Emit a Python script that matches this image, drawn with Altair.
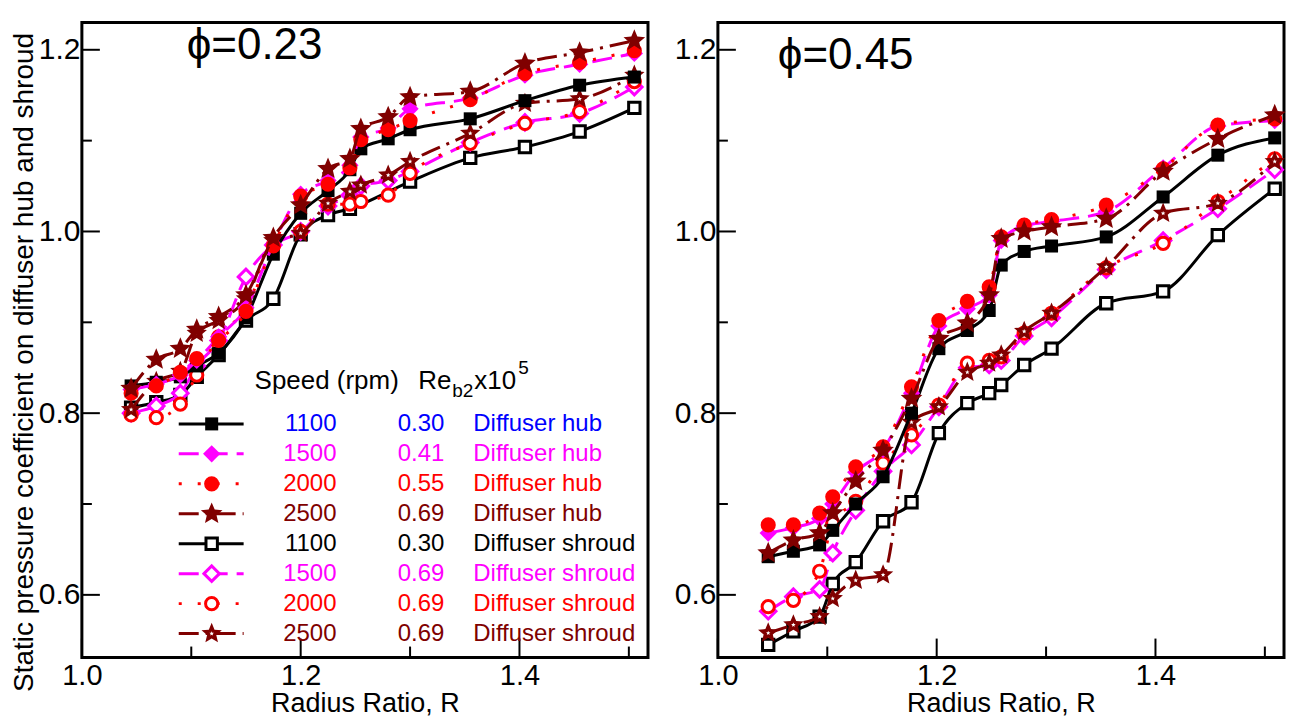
import math
import altair as alt
import pandas as pd

# ---------------- data ----------------
R_LEFT = [1.045, 1.068, 1.09, 1.105, 1.125, 1.15, 1.175, 1.2, 1.225, 1.245, 1.255, 1.28, 1.30, 1.355, 1.405, 1.455, 1.505]
R_RIGHT = [1.046, 1.069, 1.093, 1.105, 1.126, 1.151, 1.177, 1.202, 1.228, 1.248, 1.259, 1.28, 1.305, 1.355, 1.407, 1.457, 1.509]

# phi = 0.23 (left panel)
L_HUB_1100 = [0.830, 0.834, 0.840, 0.852, 0.866, 0.905, 0.975, 1.020, 1.045, 1.068, 1.091, 1.102, 1.112, 1.124, 1.144, 1.161, 1.170]
L_HUB_1500 = [0.826, 0.832, 0.842, 0.858, 0.884, 0.916, 0.986, 1.041, 1.056, 1.073, 1.104, 1.114, 1.135, 1.147, 1.172, 1.184, 1.196]
L_HUB_2000 = [0.822, 0.830, 0.845, 0.860, 0.880, 0.912, 0.984, 1.039, 1.052, 1.070, 1.101, 1.112, 1.122, 1.145, 1.174, 1.186, 1.199]
L_HUB_2500 = [0.827, 0.859, 0.871, 0.892, 0.906, 0.930, 0.993, 1.029, 1.069, 1.080, 1.113, 1.126, 1.148, 1.154, 1.185, 1.197, 1.210]
L_SHR_1100 = [0.806, 0.812, 0.820, 0.840, 0.864, 0.902, 0.926, 0.997, 1.018, 1.025, None, None, 1.055, 1.081, 1.093, 1.110, 1.136]
L_SHR_1500 = [0.800, 0.808, 0.822, 0.852, 0.880, 0.950, 0.985, 1.000, 1.028, 1.040, 1.050, 1.056, 1.066, 1.098, 1.120, 1.130, 1.159]
L_SHR_2000 = [0.798, 0.795, 0.810, 0.842, 0.884, 0.915, 0.985, 1.000, 1.030, 1.030, 1.033, 1.040, 1.064, 1.097, 1.119, 1.132, 1.165]
L_SHR_2500 = [0.804, 0.835, 0.846, 0.888, 0.902, 0.926, 0.990, 0.998, 1.031, 1.044, 1.051, 1.062, 1.077, 1.108, 1.141, 1.146, 1.172]

# phi = 0.45 (right panel)
R_HUB_1100 = [0.642, 0.648, 0.655, 0.671, 0.700, 0.730, 0.800, 0.871, 0.891, 0.913, 0.963, 0.978, 0.984, 0.994, 1.038, 1.084, 1.103]
R_HUB_1500 = [0.668, 0.674, 0.684, 0.700, 0.735, 0.760, 0.822, 0.896, 0.915, 0.930, 0.990, 1.006, 1.011, 1.022, 1.070, 1.116, 1.122]
R_HUB_2000 = [0.677, 0.677, 0.690, 0.708, 0.741, 0.763, 0.829, 0.902, 0.923, 0.939, 0.994, 1.007, 1.013, 1.029, 1.069, 1.117, 1.124]
R_HUB_2500 = [0.646, 0.660, 0.668, 0.690, 0.725, 0.759, 0.816, 0.882, 0.899, 0.930, 0.992, 1.000, 1.005, 1.014, 1.066, 1.102, 1.128]
R_SHR_1100 = [0.545, 0.560, 0.576, 0.612, 0.636, 0.681, 0.702, 0.778, 0.811, 0.822, 0.831, 0.853, 0.871, 0.921, 0.934, 0.996, 1.047]
R_SHR_1500 = [0.582, 0.598, 0.606, 0.646, 0.693, 0.736, 0.765, 0.807, 0.850, 0.853, 0.858, 0.885, 0.905, 0.958, 0.990, 1.025, 1.068]
R_SHR_2000 = [0.587, 0.594, 0.626, 0.679, 0.703, 0.745, 0.776, 0.809, 0.855, 0.858, 0.862, 0.888, 0.910, 0.960, 0.987, 1.033, 1.080]
R_SHR_2500 = [0.558, 0.567, 0.576, 0.596, 0.616, 0.622, 0.790, 0.807, 0.845, 0.855, 0.864, 0.890, 0.910, 0.961, 1.020, 1.031, 1.077]

SPEEDS = ["1100", "1500", "2000", "2500", "1100", "1500", "2000", "2500"]
RE_VALUES = ["0.30", "0.41", "0.55", "0.69", "0.30", "0.69", "0.69", "0.69"]
LOCATIONS = ["Diffuser hub"] * 4 + ["Diffuser shroud"] * 4
PHI_LABELS = ["\u03d5=0.23", "\u03d5=0.45"]

X_LABELS = [1.0, 1.2, 1.4]
X_MINOR = [1.1, 1.3, 1.5]
Y_LABELS = [0.6, 0.8, 1.0, 1.2]
Y_MINOR = [0.7, 0.9, 1.1]

LEFT_SERIES = [L_HUB_1100, L_HUB_1500, L_HUB_2000, L_HUB_2500, L_SHR_1100, L_SHR_1500, L_SHR_2000, L_SHR_2500]
RIGHT_SERIES = [R_HUB_1100, R_HUB_1500, R_HUB_2000, R_HUB_2500, R_SHR_1100, R_SHR_1500, R_SHR_2000, R_SHR_2500]

# ---------------- styles ----------------
def star_path(inner=0.45):
    pts = []
    for k in range(10):
        r = 1.0 if k % 2 == 0 else inner
        a = math.radians(-90 + 36 * k)
        pts.append(f"{r * math.cos(a):.3f},{r * math.sin(a):.3f}")
    return "M" + "L".join(pts) + "Z"


STAR = star_path()
BLACK, MAGENTA, RED, DARKRED, BLUE = "#000000", "#ff00ff", "#ff0000", "#800000", "#0000ff"
DASHES = {"solid": None, "dash": [20, 9], "dot": [3, 16], "dashdot": [20, 7, 3, 7]}
STYLES = [
    dict(color=BLACK, dash="solid", shape="square", size=170, open=False, text=BLUE),
    dict(color=MAGENTA, dash="dash", shape="diamond", size=300, open=False, text=MAGENTA),
    dict(color=RED, dash="dot", shape="circle", size=230, open=False, text=RED),
    dict(color=DARKRED, dash="dashdot", shape=STAR, size=520, open=False, text=DARKRED),
    dict(color=BLACK, dash="solid", shape="square", size=130, open=True, text=BLACK),
    dict(color=MAGENTA, dash="dash", shape="diamond", size=240, open=True, text=MAGENTA),
    dict(color=RED, dash="dot", shape="circle", size=150, open=True, text=RED),
    dict(color=DARKRED, dash="dashdot", shape=STAR, size=460, open=False, inner=True, text=DARKRED),
]
DRAW_ORDER = [4, 5, 6, 7, 0, 1, 2, 3]

W, H = 567, 636
XDOM = [1.0, 1.5175]
YDOM = [0.531, 1.23]
FONT = "Liberation Sans"

xs = alt.Scale(domain=XDOM, nice=False, zero=False)
ys = alt.Scale(domain=YDOM, nice=False, zero=False)
ONE = pd.DataFrame({"k": [0]})


def line_kw(st):
    kw = dict(color=st["color"], strokeWidth=3)
    d = DASHES[st["dash"]]
    if d is not None:
        kw["strokeDash"] = d
    return kw


def point_mark(st):
    if st["open"]:
        return dict(shape=st["shape"], size=st["size"], filled=True, fill="white",
                    stroke=st["color"], strokeWidth=3, opacity=1)
    return dict(shape=st["shape"], size=st["size"], filled=True, color=st["color"], opacity=1)


INNER = dict(shape=STAR, size=22, filled=True, color="white", opacity=1)


def panel(R, series, phi, phi_x, phi_y, left):
    x_axis = alt.Axis(values=X_LABELS, format=".1f", ticks=False, domain=False, grid=False,
                      labelFontSize=29, labelPadding=4, labelFlush=False,
                      title="Radius Ratio, R", titleFontSize=27, titleFontWeight="normal",
                      titlePadding=0)
    if left:
        y_axis = alt.Axis(values=Y_LABELS, format=".1f", ticks=False, domain=False, grid=False,
                          labelFontSize=30, labelPadding=2,
                          title="Static pressure coefficient on diffuser hub and shroud",
                          titleFontSize=28, titleFontWeight="normal", titlePadding=0, titleY=340)
    else:
        y_axis = alt.Axis(values=Y_LABELS, format=".1f", ticks=False, domain=False, grid=False,
                          labelFontSize=30, labelPadding=2, title="")
    X = alt.X("R:Q", scale=xs, axis=x_axis)
    Y = alt.Y("Cp:Q", scale=ys, axis=y_axis)

    layers = []
    # inward ticks
    layers.append(alt.Chart(pd.DataFrame({"R": X_LABELS})).mark_rule(color="black", strokeWidth=2)
                  .encode(x=X, y=alt.value(H), y2=alt.value(H - 19)))
    layers.append(alt.Chart(pd.DataFrame({"R": X_MINOR})).mark_rule(color="black", strokeWidth=2)
                  .encode(x=X, y=alt.value(H), y2=alt.value(H - 11)))
    layers.append(alt.Chart(pd.DataFrame({"Cp": Y_LABELS})).mark_rule(color="black", strokeWidth=2)
                  .encode(y=Y, x=alt.value(0), x2=alt.value(18)))
    layers.append(alt.Chart(pd.DataFrame({"Cp": Y_MINOR})).mark_rule(color="black", strokeWidth=2)
                  .encode(y=Y, x=alt.value(0), x2=alt.value(10)))

    for i in DRAW_ORDER:
        st = STYLES[i]
        df = pd.DataFrame({"R": R, "Cp": series[i]}).dropna()
        base = alt.Chart(df)
        layers.append(base.mark_line(interpolate="monotone", **line_kw(st)).encode(x=X, y=Y))
        layers.append(base.mark_point(**point_mark(st)).encode(x=X, y=Y))
        if st.get("inner"):
            layers.append(base.mark_point(**INNER).encode(x=X, y=Y))

    layers.append(alt.Chart(ONE).mark_text(text=phi, align="left", baseline="alphabetic",
                                           fontSize=44, font=FONT, color="black")
                  .encode(x=alt.value(phi_x), y=alt.value(phi_y)))

    if left:
        hy = 359
        hdr = [("Speed (rpm)", 173, hy, 26), ("Re", 337, hy, 26), ("b2", 371, hy + 10, 19),
               ("x10", 393, hy, 26), ("5", 437, hy - 13, 19)]
        for t, xx, yy, fs in hdr:
            layers.append(alt.Chart(ONE).mark_text(text=t, align="left", baseline="middle",
                                                   fontSize=fs, font=FONT, color="black")
                          .encode(x=alt.value(xx), y=alt.value(yy)))
        for i in range(8):
            st = STYLES[i]
            yy = 402 + 30 * i
            layers.append(alt.Chart(ONE).mark_rule(**line_kw(st))
                          .encode(x=alt.value(97), x2=alt.value(162), y=alt.value(yy)))
            layers.append(alt.Chart(ONE).mark_point(**point_mark(st))
                          .encode(x=alt.value(130), y=alt.value(yy)))
            if st.get("inner"):
                layers.append(alt.Chart(ONE).mark_point(**INNER)
                              .encode(x=alt.value(130), y=alt.value(yy)))
            for t, xx, al in [(SPEEDS[i], 255, "right"), (RE_VALUES[i], 363, "right"),
                              (LOCATIONS[i], 392, "left")]:
                layers.append(alt.Chart(ONE).mark_text(text=t, align=al, baseline="middle",
                                                       fontSize=24, font=FONT, color=st["text"])
                              .encode(x=alt.value(xx), y=alt.value(yy)))

    return alt.layer(*layers).properties(width=W, height=H)


left = panel(R_LEFT, LEFT_SERIES, PHI_LABELS[0], 105, 37, True)
right = panel(R_RIGHT, RIGHT_SERIES, PHI_LABELS[1], 60, 47, False)

chart = (
    alt.hconcat(left, right, spacing=22)
    .properties(padding={"left": 0, "top": 12, "right": 0, "bottom": 0}, background="white")
    .configure_view(stroke="black", strokeWidth=3)
    .configure_axis(labelFont=FONT, titleFont=FONT, labelColor="black", titleColor="black")
    .configure_text(font=FONT)
)

chart.save("out.html", embed_options={"renderer": "svg", "actions": False})
